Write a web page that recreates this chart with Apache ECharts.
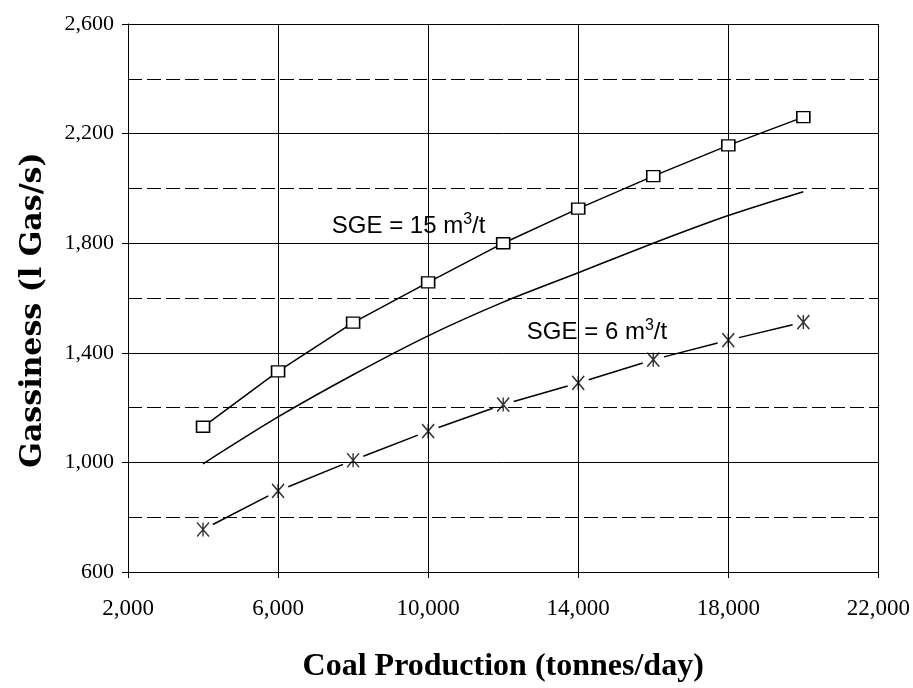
<!DOCTYPE html>
<html>
<head>
<meta charset="utf-8">
<script src="https://cdn.jsdelivr.net/npm/echarts@6/dist/echarts.min.js"></script>
<style>
  html, body { margin: 0; padding: 0; background: #fff; }
  #chart { width: 913px; height: 688px; }
</style>
</head>
<body>
<div id="chart"></div>
<script>
// coal production (tonnes/day)
const production = [4000, 6000, 8000, 10000, 12000, 14000, 16000, 18000, 20000]
// gassiness, SGE = 15 m3/t (square markers)
const sge15 = [1130, 1332, 1510, 1657, 1800, 1926, 2045, 2157, 2260]
// middle curve, no markers
const middle = [995, 1166, 1320, 1462, 1585, 1692, 1800, 1901, 1988]
// gassiness, SGE = 6 m3/t (asterisk markers)
const sge6 = [755, 896, 1008, 1114, 1211, 1290, 1375, 1446, 1512]

const xTicks = [2000, 6000, 10000, 14000, 18000, 22000]
const yTicks = [600, 1000, 1400, 1800, 2200, 2600]

const pairs = (xs, ys) => xs.map((x, i) => [x, ys[i]])

// segments between neighbouring asterisks, drawn with a gap round each marker
const segments = []
for (let i = 0; i < production.length - 1; i++) {
  segments.push([production[i], sge6[i], production[i + 1], sge6[i + 1]])
}

const fmt = (v) => v.toLocaleString('en-US')
const serif = '"Liberation Serif", "DejaVu Serif", serif'
const sans = '"Liberation Sans", Arial, sans-serif'

const noteLabel = {
  show: true,
  position: 'inside',
  formatter: (p) => p.value,
  fontFamily: sans,
  fontSize: 24,
  lineHeight: 30,
  color: '#000',
  rich: {
    sup: { fontFamily: sans, fontSize: 16, verticalAlign: 'top', lineHeight: 30, color: '#000' }
  }
}

const chart = echarts.init(document.getElementById('chart'))

const option = {
  animation: false,
  backgroundColor: '#fff',
  grid: { left: 128, right: 32, top: 24, bottom: 114 },
  xAxis: {
    type: 'value',
    min: xTicks[0],
    max: xTicks[xTicks.length - 1],
    interval: 4000,
    name: 'Coal Production (tonnes/day)',
    nameLocation: 'middle',
    nameGap: 79,
    nameTextStyle: { fontFamily: serif, fontWeight: 'bold', fontSize: 32, color: '#000' },
    axisLine: { lineStyle: { color: '#000', width: 1 } },
    axisTick: { show: true, length: 6, lineStyle: { color: '#000' } },
    axisLabel: { formatter: fmt, fontFamily: serif, fontSize: 23, color: '#000', margin: 25 },
    splitLine: { show: true, lineStyle: { color: '#000', width: 1 } }
  },
  yAxis: {
    type: 'value',
    min: yTicks[0],
    max: yTicks[yTicks.length - 1],
    interval: 400,
    name: 'Gassiness (l Gas/s)',
    nameLocation: 'middle',
    nameGap: 80,
    nameTextStyle: {
      fontFamily: '"DejaVu Serif", serif',
      fontWeight: 'bold',
      fontSize: 30,
      color: '#000',
      padding: [0, 24, 0, 0]
    },
    axisLine: { show: true, lineStyle: { color: '#000', width: 1 } },
    axisTick: { show: true, length: 6, lineStyle: { color: '#000' } },
    axisLabel: { formatter: fmt, fontFamily: serif, fontSize: 22, color: '#000', margin: 14 },
    splitLine: { show: true, lineStyle: { color: '#000', width: 1 } },
    minorTick: { show: false, splitNumber: 2 },
    minorSplitLine: { show: true, lineStyle: { color: '#000', width: 1, type: [14, 5] } }
  },
  series: [
    {
      name: 'SGE 15',
      type: 'line',
      data: pairs(production, sge15),
      symbol: 'rect',
      symbolSize: [13, 11],
      z: 5,
      lineStyle: { color: '#000', width: 1.5 },
      itemStyle: { color: '#fff', borderColor: '#000', borderWidth: 1.5 },
      markPoint: {
        symbolSize: 0,
        data: [{ coord: [9480, 1860], value: 'SGE = 15 m{sup|3}/t' }],
        label: noteLabel
      }
    },
    {
      name: 'middle',
      type: 'line',
      data: pairs(production, middle),
      smooth: 0.3,
      symbol: 'none',
      lineStyle: { color: '#000', width: 1.5 }
    },
    {
      name: 'SGE 6 line',
      type: 'custom',
      data: segments,
      renderItem: (params, api) => {
        const p0 = api.coord([api.value(0), api.value(1)])
        const p1 = api.coord([api.value(2), api.value(3)])
        const dx = p1[0] - p0[0]
        const dy = p1[1] - p0[1]
        const len = Math.sqrt(dx * dx + dy * dy)
        const gap = 11
        const ux = dx / len
        const uy = dy / len
        return {
          type: 'line',
          shape: {
            x1: p0[0] + ux * gap, y1: p0[1] + uy * gap,
            x2: p1[0] - ux * gap, y2: p1[1] - uy * gap
          },
          style: { stroke: '#000', lineWidth: 1.5 }
        }
      },
      z: 4
    },
    {
      name: 'SGE 6',
      type: 'scatter',
      data: pairs(production, sge6),
      symbol: 'path://M0,0L10,12M10,0L0,12M5,0L5,12',
      symbolSize: [12, 14],
      z: 5,
      itemStyle: { color: 'rgba(0,0,0,0)', borderColor: '#000', borderWidth: 1.5 },
      markPoint: {
        symbolSize: 0,
        data: [{ coord: [14500, 1475], value: 'SGE = 6 m{sup|3}/t' }],
        label: noteLabel
      }
    }
  ]
}

chart.setOption(option)
</script>
</body>
</html>
